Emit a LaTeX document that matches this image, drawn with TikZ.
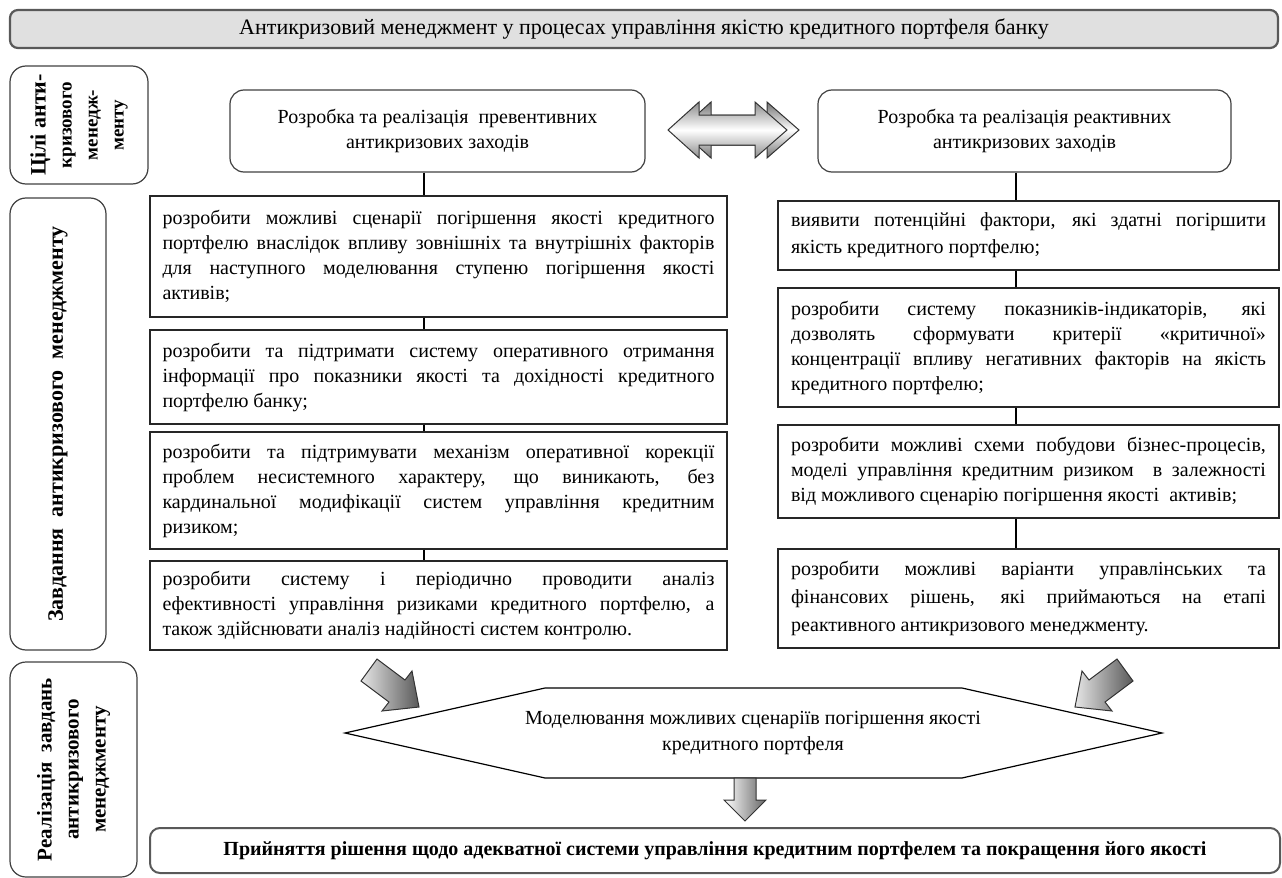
\documentclass[tikz,border=0pt]{standalone}
\usepackage{fontspec}
\setmainfont{Liberation Serif}
\usetikzlibrary{calc}
\hyphenpenalty=10000
\exhyphenpenalty=10000
\tolerance=10000
\begin{document}
\begin{tikzpicture}[x=0.5pt,y=-0.5pt,
  body/.style={font=\fontsize{10}{12.5}\selectfont},
  tbox/.style={draw=black!85, line width=0.6pt, fill=white, align=justify, inner ysep=0pt, body},
  lbox/.style={tbox, text width=276pt, inner xsep=6.25pt},
  rbox/.style={tbox, text width=237.5pt, inner xsep=6.5pt},
  headbox/.style={draw=black!75, line width=0.6pt, rounded corners=7pt, align=center, body, minimum height=41pt, inner sep=0pt},
  sidebox/.style={draw=black!75, line width=0.6pt, rounded corners=8pt, rotate=90, align=center, inner sep=0pt},
  conn/.style={draw=black, line width=0.6pt},
  blockarrow/.style={draw=black!80, line width=0.5pt},
]
\useasboundingbox (0,0) rectangle (1282,878);

% title
\node[draw=black!65, line width=1.1pt, rounded corners=4pt, fill=black!12,
      minimum width=634pt, minimum height=19pt, inner sep=0pt,
      font=\fontsize{11}{13}\selectfont] (T) at (644,29)
  {Антикризовий менеджмент у процесах управління якістю кредитного портфеля банку};

% side labels
\node[sidebox, minimum width=59pt, minimum height=69pt, font=\bfseries\fontsize{9.5}{13}\selectfont] (S1) at (79,125)
  {{\fontsize{11}{13}\selectfont Цілі анти-}\\кризового\\менедж-\\менту};
\node[sidebox, minimum width=226pt, minimum height=48pt, font=\bfseries\fontsize{11}{13}\selectfont] (S2) at (58,424)
  {Завдання\ \ антикризового\ \ менеджменту};
\node[sidebox, minimum width=107.5pt, minimum height=63.5pt, font=\bfseries\fontsize{10.5}{13.5}\selectfont] (S3) at (73.5,769.5)
  {Реалізація\ \ завдань\\антикризового\\менеджменту};

% header boxes
\node[headbox, minimum width=207.5pt] (A) at (437.5,131)
  {Розробка та реалізація\ \ превентивних\\антикризових заходів};
\node[headbox, minimum width=206.5pt] (B) at (1024.5,131)
  {Розробка та реалізація реактивних\\антикризових заходів};

% double arrow between headers
\path[blockarrow, top color=black!55, bottom color=black!55, middle color=white]
  (680,130) -- (711,102) -- (711,115) -- (767,115) -- (767,102) -- (799,130)
  -- (767,158) -- (767,145) -- (711,145) -- (711,158) -- cycle;
\path[blockarrow, top color=black!45, bottom color=black!45, middle color=white]
  (668,130) -- (699,102) -- (699,115) -- (755,115) -- (755,102) -- (787,130)
  -- (755,158) -- (755,145) -- (699,145) -- (699,158) -- cycle;

% left column
\node[lbox, minimum height=60.5pt] (L1) at (438.5,256.5)
  {розробити можливі сценарії погіршення якості кредитного\linebreak
   портфелю внаслідок впливу зовнішніх та внутрішніх факторів\linebreak
   для наступного моделювання ступеню погіршення якості\linebreak
   активів;};
\node[lbox, minimum height=47pt] (L2) at (438.5,377)
  {розробити та підтримати систему оперативного отримання\linebreak
   інформації про показники якості та дохідності кредитного\linebreak
   портфелю банку;};
\node[lbox, minimum height=58.5pt] (L3) at (438.5,490.5)
  {розробити та підтримувати механізм оперативної корекції\linebreak
   проблем несистемного характеру, що виникають, без\linebreak
   кардинальної модифікації систем управління кредитним\linebreak
   ризиком;};
\node[lbox, minimum height=44.5pt] (L4) at (438.5,605.5)
  {розробити систему і періодично проводити аналіз\linebreak
   ефективності управління ризиками кредитного портфелю, а\linebreak
   також здійснювати аналіз надійності систем контролю.};

% right column
\node[rbox, minimum height=34.5pt, font=\fontsize{10}{13.5}\selectfont] (R1) at (1028.5,235.5)
  {виявити потенційні фактори, які здатні погіршити\linebreak
   якість кредитного портфелю;};
\node[rbox, minimum height=59.5pt] (R2) at (1028.5,347.5)
  {розробити систему показників-індикаторів, які\linebreak
   дозволять сформувати критерії «критичної»\linebreak
   концентрації впливу негативних факторів на якість\linebreak
   кредитного портфелю;};
\node[rbox, minimum height=46.5pt] (R3) at (1028.5,471.5)
  {розробити можливі схеми побудови бізнес-процесів,\linebreak
   моделі управління кредитним ризиком\ \ в залежності\linebreak
   від можливого сценарію погіршення якості\ \ активів;};
\node[rbox, minimum height=49.5pt, font=\fontsize{10}{14}\selectfont] (R4) at (1028.5,598.5)
  {розробити можливі варіанти управлінських та\linebreak
   фінансових рішень, які приймаються на етапі\linebreak
   реактивного антикризового менеджменту.};

% connectors
\coordinate (cL) at (424,0);
\coordinate (cR) at (1016,0);
\draw[conn] (cL |- A.south) -- (cL |- L1.north);
\draw[conn] (cL |- L1.south) -- (cL |- L2.north);
\draw[conn] (cL |- L2.south) -- (cL |- L3.north);
\draw[conn] (cL |- L3.south) -- (cL |- L4.north);
\draw[conn] (cR |- B.south) -- (cR |- R1.north);
\draw[conn] (cR |- R1.south) -- (cR |- R2.north);
\draw[conn] (cR |- R2.south) -- (cR |- R3.north);
\draw[conn] (cR |- R3.south) -- (cR |- R4.north);

% hexagon
\draw[line width=0.6pt, fill=white] (345,733) -- (545,688) -- (962,688) -- (1162,733)
  -- (962,778) -- (545,778) -- cycle;
\node[body, align=center, font=\fontsize{10}{13}\selectfont] (H) at (753,733)
  {Моделювання можливих сценаріїв погіршення якості\\кредитного портфеля};

% diagonal block arrows
\path[blockarrow, left color=black!10, right color=black!65]
  (377,659) -- (405,680) -- (412,671) -- (419,707) -- (382,711) -- (389,702) -- (361,681) -- cycle;
\path[blockarrow, left color=black!10, right color=black!65]
  (1117,659) -- (1089,680) -- (1082,671) -- (1075,707) -- (1112,711) -- (1105,702) -- (1133,681) -- cycle;

% final box
\node[draw=black!65, line width=1pt, rounded corners=5pt, fill=white,
      minimum width=565pt, minimum height=22.5pt, inner sep=0pt,
      font=\bfseries\fontsize{10}{12}\selectfont] (F) at (715,850.5)
  {Прийняття рішення щодо адекватної системи управління кредитним портфелем та покращення його якості};

% down arrow from hexagon to final box
\path[blockarrow, left color=white, right color=black!60]
  (734,778) -- (756,778) -- (756,800) -- (766,800) -- (745,821) -- (724,800) -- (734,800) -- cycle;
\end{tikzpicture}
\end{document}
